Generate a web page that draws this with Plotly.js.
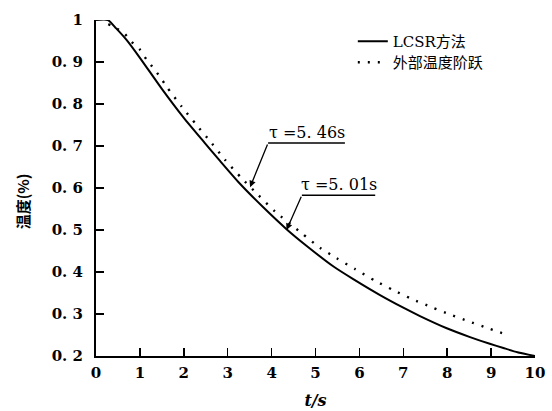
<!DOCTYPE html>
<html>
<head>
<meta charset="utf-8">
<script src="https://cdn.plot.ly/plotly-3.0.1.min.js"></script>
<style>html,body{margin:0;padding:0;background:#fff;}#chart{width:552px;height:411px;}</style>
</head>
<body>
<div id="chart"></div>
<script>
// Series: LCSR method (solid)
const tLCSR = [0, 0.27, 0.46, 0.7, 1.0, 1.5, 2.0, 2.48, 2.82, 3.28, 3.81, 4.34, 4.8, 5.41, 5.86, 6.47, 7.0, 7.38, 7.99, 8.52, 8.97, 9.28, 9.6, 10];
const vLCSR = [1, 1, 0.98, 0.952, 0.91, 0.836, 0.767, 0.707, 0.665, 0.61, 0.554, 0.502, 0.462, 0.413, 0.383, 0.345, 0.315, 0.295, 0.266, 0.245, 0.229, 0.219, 0.209, 0.2];
// Series: external temperature step (dotted)
const tStep = [0.28, 0.47, 0.645, 0.81, 0.99, 1.15, 1.31, 1.47, 1.61, 1.95, 2.29, 2.64, 2.94, 3.32, 3.70, 4.08, 4.69, 5.1, 5.48, 5.9, 6.36, 6.77, 7.19, 7.65, 8.06, 8.48, 8.9, 9.32];
const vStep = [0.99, 0.98, 0.968, 0.948, 0.931, 0.906, 0.885, 0.863, 0.841, 0.794, 0.75, 0.706, 0.667, 0.623, 0.583, 0.544, 0.492, 0.458, 0.433, 0.407, 0.379, 0.357, 0.336, 0.316, 0.299, 0.283, 0.267, 0.252];
const seriesNames = ['LCSR方法', '外部温度阶跃'];

// Ticks and titles
const xTickVals = [0,1,2,3,4,5,6,7,8,9,10];
const xTickText = ['0','1','2','3','4','5','6','7','8','9','10'];
const yTickVals = [0.2,0.3,0.4,0.5,0.6,0.7,0.8,0.9,1];
const yTickText = ['0. 2','0. 3','0. 4','0. 5','0. 6','0. 7','0. 8','0. 9','1'];
const xTitle = 't/s';
const yTitle = '温度(%)';

// Callouts: label text, underline start/end (t), underline level, arrow tip (t, v)
const calloutText = ['τ =5. 46s', 'τ =5. 01s'];
const calloutX0 = [3.92, 4.69];
const calloutX1 = [5.67, 6.36];
const calloutY = [0.707, 0.583];
const calloutTipX = [3.51, 4.34];
const calloutTipY = [0.602, 0.5];

const serif = '"DejaVu Serif", "Noto Sans CJK SC", serif';

const traces = [
  {x: tLCSR, y: vLCSR, name: seriesNames[0], mode: 'lines', type: 'scatter', legend: 'legend',
   line: {color: '#000', width: 2, shape: 'spline', smoothing: 0.6}, cliponaxis: false},
  {x: tStep, y: vStep, name: seriesNames[1], mode: 'lines', type: 'scatter', legend: 'legend2',
   line: {color: '#000', width: 2.4, dash: '2px,8px', shape: 'spline', smoothing: 0.6}, cliponaxis: false}
];

const shapes = [];
const annotations = [];
for (let i = 0; i < calloutText.length; i++) {
  shapes.push({type: 'line', xref: 'x', yref: 'y', x0: calloutX0[i], x1: calloutX1[i],
    y0: calloutY[i], y1: calloutY[i], line: {color: '#000', width: 1.5}});
  annotations.push({x: (calloutX0[i] + calloutX1[i]) / 2, y: calloutY[i], xref: 'x', yref: 'y',
    text: calloutText[i], showarrow: false, yanchor: 'bottom', yshift: -1,
    font: {family: serif, size: 16, color: '#000'}});
  annotations.push({x: calloutTipX[i], y: calloutTipY[i], xref: 'x', yref: 'y',
    ax: calloutX0[i], ay: calloutY[i], axref: 'x', ayref: 'y', text: '',
    showarrow: true, arrowhead: 2, arrowsize: 1, arrowwidth: 1.3, arrowcolor: '#000', standoff: 0});
}
annotations.push({x: -0.168, y: 0.461, xref: 'paper', yref: 'paper', text: yTitle, textangle: -90,
  showarrow: false, xanchor: 'center', yanchor: 'middle',
  font: {family: '"Noto Sans CJK SC", sans-serif', size: 15, color: '#000', weight: 'bold'}});

const legendBase = {xanchor: 'left', yanchor: 'top', bgcolor: 'rgba(0,0,0,0)',
  font: {family: serif, size: 15, color: '#000'}};

const layout = {
  width: 552, height: 411,
  margin: {l: 96, r: 17, t: 20, b: 55},
  paper_bgcolor: '#fff', plot_bgcolor: '#fff',
  showlegend: true,
  legend: Object.assign({x: 0.585, y: 0.985}, legendBase),
  legend2: Object.assign({x: 0.585, y: 0.9225}, legendBase),
  xaxis: {range: [0, 10], tickvals: xTickVals, ticktext: xTickText, ticks: 'inside', ticklen: 8,
    tickwidth: 1.5, tickcolor: '#000', showline: true, linecolor: '#000', linewidth: 2,
    showgrid: false, zeroline: false, ticklabelstandoff: 2,
    tickfont: {family: serif, size: 15, color: '#000', weight: 'bold'},
    title: {text: xTitle, standoff: 14, font: {family: serif, size: 16, color: '#000', weight: 'bold', style: 'italic'}}},
  yaxis: {range: [0.2, 1], tickvals: yTickVals, ticktext: yTickText, ticks: 'inside', ticklen: 8,
    tickwidth: 1.5, tickcolor: '#000', showline: true, linecolor: '#000', linewidth: 2,
    showgrid: false, zeroline: false, ticklabelstandoff: 8,
    tickfont: {family: serif, size: 15, color: '#000', weight: 'bold'}},
  shapes: shapes,
  annotations: annotations
};

Plotly.newPlot('chart', traces, layout, {staticPlot: true, displayModeBar: false});
</script>
</body>
</html>
